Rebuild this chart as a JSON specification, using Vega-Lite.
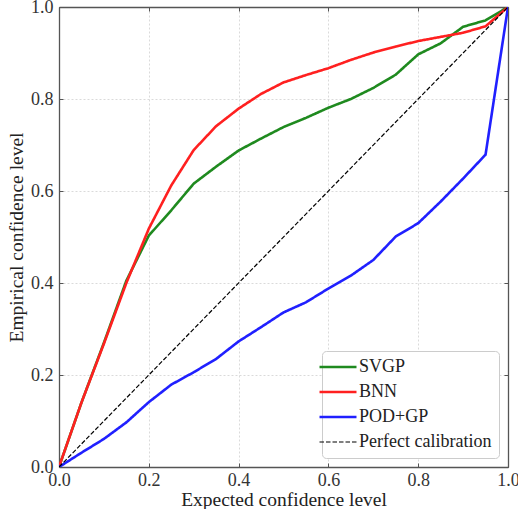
{
  "$schema": "https://vega.github.io/schema/vega-lite/v6.json",
  "autosize": {"type": "none"},
  "width": 449,
  "height": 460,
  "padding": {"left": 59, "top": 7, "right": 10, "bottom": 42},
  "background": "white",
  "config": {
    "view": {"stroke": null},
    "font": "Liberation Serif",
    "text": {"font": "Liberation Serif"},
    "axis": {
      "labelFont": "Liberation Serif",
      "titleFont": "Liberation Serif",
      "labelFontSize": 18,
      "titleFontSize": 19.5,
      "titleFontWeight": "normal",
      "labelColor": "#333",
      "titleColor": "#222",
      "domainColor": "#555",
      "domainWidth": 1.3,
      "tickColor": "#555",
      "tickSize": -4,
      "gridColor": "#d0d0d0",
      "gridDash": [2, 2],
      "gridWidth": 0.8
    },
    "legend": {
      "orient": "bottom-right",
      "offset": 9,
      "fillColor": "white",
      "strokeColor": "#cccccc",
      "cornerRadius": 4,
      "padding": 7,
      "labelFont": "Liberation Serif",
      "labelFontSize": 18,
      "labelColor": "#222",
      "labelOffset": 12,
      "symbolType": "stroke",
      "symbolSize": 1369,
      "symbolStrokeWidth": 2.6,
      "rowPadding": 7,
      "labelLimit": 300
    }
  },
  "data": {
    "values": [
      {"x": 0.0, "y": 0.0, "s": "SVGP"},
      {"x": 0.05, "y": 0.14, "s": "SVGP"},
      {"x": 0.1, "y": 0.27, "s": "SVGP"},
      {"x": 0.15, "y": 0.405, "s": "SVGP"},
      {"x": 0.2, "y": 0.503, "s": "SVGP"},
      {"x": 0.25, "y": 0.558, "s": "SVGP"},
      {"x": 0.3, "y": 0.616, "s": "SVGP"},
      {"x": 0.35, "y": 0.653, "s": "SVGP"},
      {"x": 0.4, "y": 0.688, "s": "SVGP"},
      {"x": 0.45, "y": 0.714, "s": "SVGP"},
      {"x": 0.5, "y": 0.739, "s": "SVGP"},
      {"x": 0.55, "y": 0.759, "s": "SVGP"},
      {"x": 0.6, "y": 0.781, "s": "SVGP"},
      {"x": 0.65, "y": 0.8, "s": "SVGP"},
      {"x": 0.7, "y": 0.824, "s": "SVGP"},
      {"x": 0.75, "y": 0.853, "s": "SVGP"},
      {"x": 0.8, "y": 0.897, "s": "SVGP"},
      {"x": 0.85, "y": 0.921, "s": "SVGP"},
      {"x": 0.9, "y": 0.957, "s": "SVGP"},
      {"x": 0.95, "y": 0.971, "s": "SVGP"},
      {"x": 1.0, "y": 1.0, "s": "SVGP"},
      {"x": 0.0, "y": 0.0, "s": "BNN"},
      {"x": 0.05, "y": 0.14, "s": "BNN"},
      {"x": 0.1, "y": 0.268, "s": "BNN"},
      {"x": 0.15, "y": 0.4, "s": "BNN"},
      {"x": 0.2, "y": 0.518, "s": "BNN"},
      {"x": 0.25, "y": 0.612, "s": "BNN"},
      {"x": 0.3, "y": 0.689, "s": "BNN"},
      {"x": 0.35, "y": 0.741, "s": "BNN"},
      {"x": 0.4, "y": 0.779, "s": "BNN"},
      {"x": 0.45, "y": 0.811, "s": "BNN"},
      {"x": 0.5, "y": 0.836, "s": "BNN"},
      {"x": 0.55, "y": 0.852, "s": "BNN"},
      {"x": 0.6, "y": 0.867, "s": "BNN"},
      {"x": 0.65, "y": 0.885, "s": "BNN"},
      {"x": 0.7, "y": 0.901, "s": "BNN"},
      {"x": 0.75, "y": 0.914, "s": "BNN"},
      {"x": 0.8, "y": 0.926, "s": "BNN"},
      {"x": 0.85, "y": 0.935, "s": "BNN"},
      {"x": 0.9, "y": 0.944, "s": "BNN"},
      {"x": 0.95, "y": 0.958, "s": "BNN"},
      {"x": 1.0, "y": 1.0, "s": "BNN"},
      {"x": 0.0, "y": 0.0, "s": "POD+GP"},
      {"x": 0.05, "y": 0.031, "s": "POD+GP"},
      {"x": 0.1, "y": 0.061, "s": "POD+GP"},
      {"x": 0.15, "y": 0.097, "s": "POD+GP"},
      {"x": 0.2, "y": 0.141, "s": "POD+GP"},
      {"x": 0.25, "y": 0.179, "s": "POD+GP"},
      {"x": 0.3, "y": 0.206, "s": "POD+GP"},
      {"x": 0.35, "y": 0.235, "s": "POD+GP"},
      {"x": 0.4, "y": 0.273, "s": "POD+GP"},
      {"x": 0.45, "y": 0.304, "s": "POD+GP"},
      {"x": 0.5, "y": 0.336, "s": "POD+GP"},
      {"x": 0.55, "y": 0.358, "s": "POD+GP"},
      {"x": 0.6, "y": 0.388, "s": "POD+GP"},
      {"x": 0.65, "y": 0.416, "s": "POD+GP"},
      {"x": 0.7, "y": 0.45, "s": "POD+GP"},
      {"x": 0.75, "y": 0.501, "s": "POD+GP"},
      {"x": 0.8, "y": 0.53, "s": "POD+GP"},
      {"x": 0.85, "y": 0.577, "s": "POD+GP"},
      {"x": 0.9, "y": 0.627, "s": "POD+GP"},
      {"x": 0.95, "y": 0.679, "s": "POD+GP"},
      {"x": 1.0, "y": 1.0, "s": "POD+GP"},
      {"x": 0.0, "y": 0.0, "s": "Perfect calibration"},
      {"x": 1.0, "y": 1.0, "s": "Perfect calibration"}
    ]
  },
  "layer": [
    {
      "mark": {"type": "line", "clip": true},
      "encoding": {
        "x": {
          "field": "x", "type": "quantitative",
          "scale": {"domain": [0, 1], "nice": false, "zero": false},
          "axis": {"title": "Expected confidence level", "values": [0, 0.2, 0.4, 0.6, 0.8, 1.0], "format": ".1f", "labelPadding": 8, "titlePadding": 1, "labelFlush": false}
        },
        "y": {
          "field": "y", "type": "quantitative",
          "scale": {"domain": [0, 1], "nice": false, "zero": false},
          "axis": {"title": "Empirical confidence level", "values": [0, 0.2, 0.4, 0.6, 0.8, 1.0], "format": ".1f", "labelPadding": 10, "titlePadding": 4, "labelFlush": false}
        },
        "color": {
          "field": "s", "type": "nominal",
          "scale": {"domain": ["SVGP", "BNN", "POD+GP", "Perfect calibration"], "range": ["#1f8a1f", "#ff2020", "#2020ff", "#000000"]},
          "legend": {
            "title": null,
            "labelFont": "Liberation Serif",
            "encode": {
              "symbols": {"update": {"strokeWidth": {"signal": "datum.value === 'Perfect calibration' ? 1.2 : 2.6"}}},
              "labels": {"update": {"font": {"value": "Liberation Serif"}}}
            }
          }
        },
        "strokeDash": {
          "field": "s", "type": "nominal",
          "scale": {"domain": ["SVGP", "BNN", "POD+GP", "Perfect calibration"], "range": [[1, 0], [1, 0], [1, 0], [4.5, 2]]},
          "legend": {"title": null}
        },
        "strokeWidth": {
          "condition": {"test": "datum.s === 'Perfect calibration'", "value": 1.2},
          "value": 2.6
        }
      }
    },
    {
      "mark": {"type": "point", "opacity": 0},
      "encoding": {
        "x": {"field": "x", "type": "quantitative", "axis": {"orient": "top", "labels": false, "grid": false, "title": null, "values": [0, 0.2, 0.4, 0.6, 0.8, 1.0]}},
        "y": {"field": "y", "type": "quantitative", "axis": {"orient": "right", "labels": false, "grid": false, "title": null, "values": [0, 0.2, 0.4, 0.6, 0.8, 1.0]}}
      }
    }
  ],
  "resolve": {"axis": {"x": "independent", "y": "independent"}}
}
